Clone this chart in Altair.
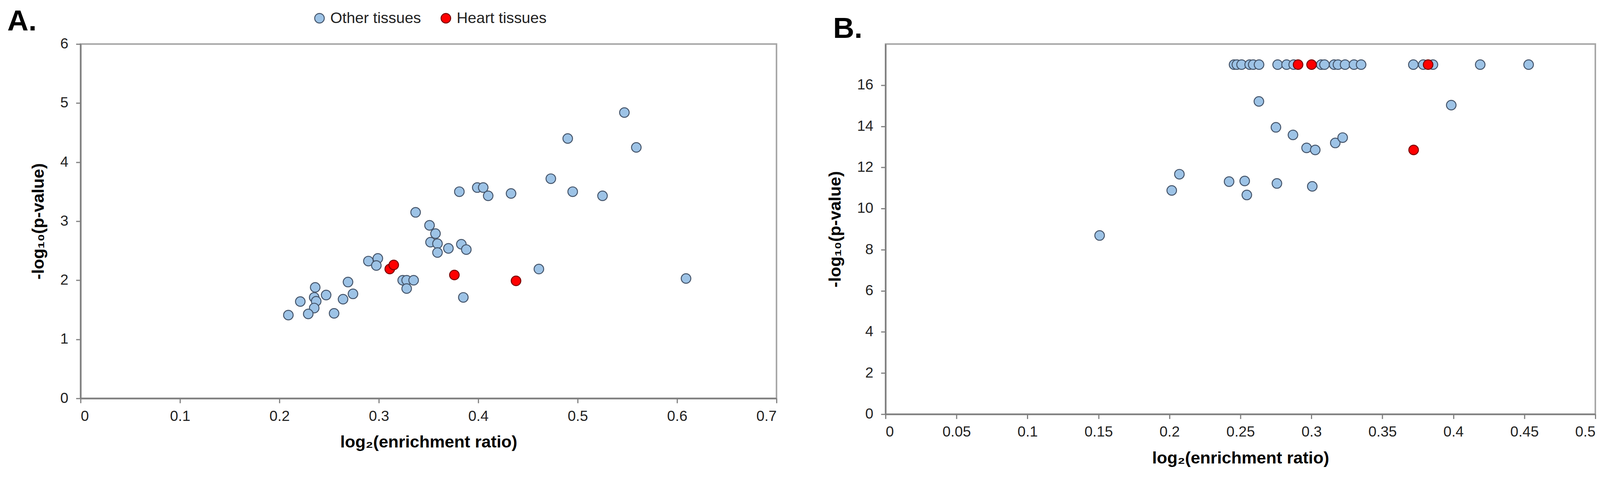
import altair as alt
import pandas as pd

# ---------------- Panel A ----------------
a_other_x = [0.547, 0.490, 0.559, 0.473, 0.399, 0.405, 0.410, 0.381, 0.433, 0.495,
             0.525, 0.337, 0.351, 0.357, 0.352, 0.359, 0.359, 0.370, 0.383, 0.388,
             0.2895, 0.299, 0.2975, 0.324, 0.328, 0.335, 0.328, 0.461, 0.609, 0.385,
             0.269, 0.274, 0.264, 0.236, 0.235, 0.237, 0.235, 0.247, 0.221, 0.229,
             0.209, 0.255]
a_other_y = [4.84, 4.40, 4.25, 3.72, 3.57, 3.57, 3.43, 3.50, 3.47, 3.50,
             3.43, 3.15, 2.93, 2.79, 2.645, 2.62, 2.47, 2.54, 2.61, 2.52,
             2.325, 2.37, 2.25, 2.00, 2.00, 2.00, 1.86, 2.19, 2.03, 1.71,
             1.97, 1.77, 1.68, 1.88, 1.71, 1.645, 1.53, 1.75, 1.64, 1.43,
             1.41, 1.44]
a_heart_x = [0.311, 0.315, 0.376, 0.438]
a_heart_y = [2.19, 2.26, 2.09, 1.99]

# ---------------- Panel B ----------------
b_other_x = [0.2455, 0.2475, 0.2508, 0.2565, 0.259, 0.2631, 0.2762, 0.2825, 0.2875,
             0.3069, 0.3092, 0.316, 0.3187, 0.3237, 0.330, 0.335, 0.3718, 0.3788,
             0.3856, 0.4189, 0.453,
             0.263, 0.3985, 0.275, 0.287, 0.2966, 0.3027, 0.3168, 0.322,
             0.207, 0.2016, 0.242, 0.253, 0.2545, 0.2757, 0.3006, 0.1508]
b_other_y = [17, 17, 17, 17, 17, 17, 17, 17, 17,
             17, 17, 17, 17, 17, 17, 17, 17, 17,
             17, 17, 17,
             15.21, 15.03, 13.95, 13.58, 12.95, 12.85, 13.19, 13.45,
             11.67, 10.88, 11.31, 11.34, 10.66, 11.22, 11.08, 8.69]
b_heart_x = [0.2906, 0.3001, 0.3822, 0.372]
b_heart_y = [17, 17, 17, 12.85]

tissues = ["Other tissues", "Heart tissues"]
a_xticks = [0, 0.1, 0.2, 0.3, 0.4, 0.5, 0.6, 0.7]
a_yticks = [0, 1, 2, 3, 4, 5, 6]
b_xticks = [0, 0.05, 0.1, 0.15, 0.2, 0.25, 0.3, 0.35, 0.4, 0.45, 0.5]
b_yticks = [0, 2, 4, 6, 8, 10, 12, 14, 16]

X_TITLE = "log\u2082(enrichment ratio)"
Y_TITLE = "-log\u2081\u2080(p-value)"


def make_df(ox, oy, hx, hy):
    rows = [{"x": x, "y": y, "tissue": tissues[0]} for x, y in zip(ox, oy)]
    rows += [{"x": x, "y": y, "tissue": tissues[1]} for x, y in zip(hx, hy)]
    return pd.DataFrame(rows)


fill_scale = alt.Scale(domain=tissues, range=["#9DC3E6", "#FF0000"])
stroke_scale = alt.Scale(domain=tissues, range=["#44546A", "#7A0000"])

LABEL_FONT = "Liberation Sans, Arial, sans-serif"
TITLE_FONT = "Liberation Sans, Arial, sans-serif"


def panel(df, label, xdom, xticks, ydom, yticks, w, h, lx, ly, tdx):
    legend = alt.Legend(
        title=None, orient="none", direction="horizontal",
        legendX=lx, legendY=ly, labelFontSize=40, labelFont=LABEL_FONT,
        labelColor="#222222", symbolSize=620, symbolStrokeWidth=2.5,
        columnPadding=44, labelOffset=8, symbolType="circle", labelLimit=0,
    )
    return alt.Chart(
        df,
        title=alt.TitleParams(
            label, anchor="start", frame="group", dx=tdx, fontSize=76,
            fontWeight="bold", font=TITLE_FONT, color="black", offset=0,
        ),
    ).mark_circle(opacity=1, strokeWidth=2.5, size=620).encode(
        x=alt.X("x:Q", scale=alt.Scale(domain=xdom, nice=False, zero=False),
                axis=alt.Axis(values=xticks, title=X_TITLE, format=".2~f")),
        y=alt.Y("y:Q", scale=alt.Scale(domain=ydom, nice=False, zero=False),
                axis=alt.Axis(values=yticks, title=Y_TITLE, format="d")),
        fill=alt.Fill("tissue:N", scale=fill_scale, legend=legend, sort=tissues),
        stroke=alt.Stroke("tissue:N", scale=stroke_scale, legend=legend, sort=tissues),
    ).properties(width=w, height=h)


chart_a = panel(make_df(a_other_x, a_other_y, a_heart_x, a_heart_y), "A.",
                [0, 0.7], a_xticks, [0, 6], a_yticks, 1806, 920, 600, -87, -190)
chart_b = panel(make_df(b_other_x, b_other_y, b_heart_x, b_heart_y), "B.",
                [0, 0.5], b_xticks, [0, 18], b_yticks, 1842, 961, 601, -90, -136)

chart = alt.hconcat(chart_a, chart_b, spacing=283, bounds="flush").properties(
    padding={"left": 9, "top": 0, "right": 0, "bottom": 0}, background="white"
).configure_view(
    stroke="#A6A6A6", strokeWidth=4
).configure_axis(
    grid=False, domainColor="#7F7F7F", domainWidth=4, tickColor="#7F7F7F",
    tickWidth=3, tickSize=12, labelFont=LABEL_FONT, labelFontSize=38,
    labelColor="#222222", labelPadding=16, titleFont=TITLE_FONT,
    titleFontSize=44, titleFontWeight="bold", titleColor="black", titlePadding=22,
).configure_axisY(
    labelPadding=20, titlePadding=34
).configure_axisX(
    titlePadding=26
)

chart.save("out.html", embed_options={"renderer": "svg", "actions": False})
